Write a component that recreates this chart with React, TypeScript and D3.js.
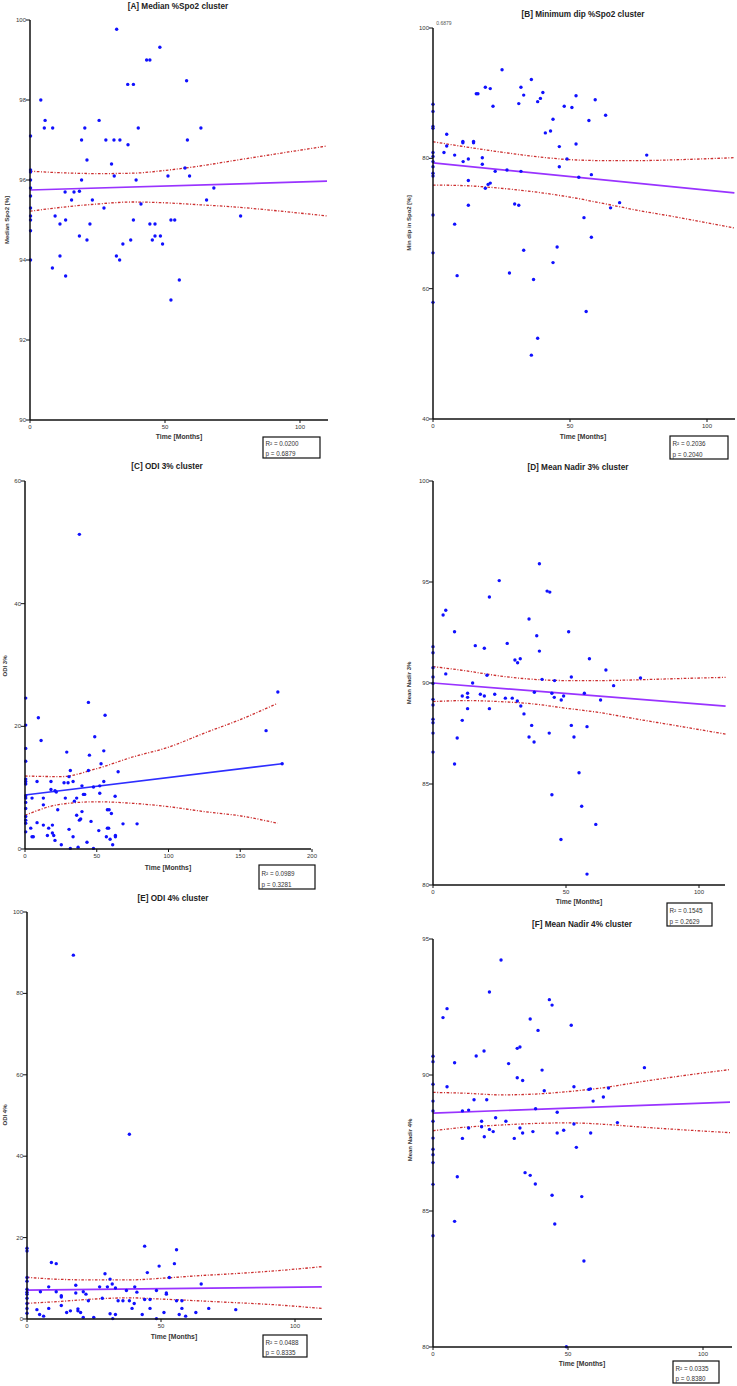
import React from "react";
import * as d3 from "d3";

type Pt = [number, number];

// ---------- DATA ----------
const titles = [
  "[A] Median %Spo2 cluster",
  "[B] Minimum dip %Spo2 cluster",
  "[C] ODI 3% cluster",
  "[D] Mean Nadir 3% cluster",
  "[E] ODI 4% cluster",
  "[F] Mean Nadir 4% cluster",
];
const yLabels = ["Median Spo2 [%]", "Min dip in Spo2 [%]", "ODI 3%", "Mean Nadir 3%", "ODI 4%", "Mean Nadir 4%"];
const xLabel = "Time [Months]";
const r2Values = ["0.0200", "0.2036", "0.0989", "0.1545", "0.0488", "0.0335"];
const pValues = ["0.6879", "0.2040", "0.3281", "0.2629", "0.8335", "0.8380"];

const ticksA = [90, 92, 94, 96, 98, 100];
const ticksB = [40, 60, 80, 100];
const ticksC = [0, 20, 40, 60];
const ticksD = [80, 85, 90, 95, 100];
const ticksE = [0, 20, 40, 60, 80, 100];
const ticksF = [80, 85, 90, 95];
const xTicks100 = [0, 50, 100];
const xTicks200 = [0, 50, 100, 150, 200];

const pointsA: Pt[] = [
  [32.1, 99.77], [48.1, 99.32], [43.2, 99.0], [44.4, 99.0], [58, 98.48], [36.2, 98.39], [38.3, 98.39], [4, 98.0],
  [5.6, 97.49], [5.3, 97.3], [8.4, 97.3], [25.6, 97.49], [20.3, 97.3], [40.1, 97.3], [63.3, 97.3], [0.2, 97.1],
  [19.1, 97.0], [28.1, 97.0], [31.1, 97.0], [33.3, 97.0], [58.3, 97.0], [36.3, 96.88], [21.1, 96.5], [30.2, 96.4],
  [0.2, 96.25], [0.2, 96.2], [57.4, 96.3], [31.2, 96.1], [51.1, 96.1], [59.1, 96.1], [0.2, 96.0], [19.1, 96.0],
  [39.3, 96.0], [68.1, 95.8], [0.2, 95.8], [13, 95.7], [16.3, 95.7], [18.3, 95.72], [0.2, 95.6], [15.4, 95.5],
  [23.1, 95.5], [65.4, 95.5], [0.2, 95.3], [27.4, 95.3], [41.1, 95.4], [0.2, 95.1], [9.3, 95.1], [78, 95.1],
  [0.2, 95.0], [13.2, 95.0], [11.1, 94.9], [22.2, 94.9], [38.3, 95.0], [44.4, 94.9], [46.3, 94.9], [52.2, 95.0],
  [53.6, 95.0], [0.2, 94.73], [18.3, 94.6], [46.3, 94.6], [48.3, 94.6], [21.1, 94.5], [37.3, 94.5], [45.3, 94.5],
  [34.4, 94.4], [49.1, 94.4], [11.1, 94.1], [32, 94.1], [33.2, 94.0], [0.2, 94.0], [8.3, 93.8], [13.2, 93.6],
  [55.3, 93.5], [52.2, 93.0],
];
const pointsB: Pt[] = [
  [25.2, 93.6], [35.9, 92.1], [19.1, 90.9], [20.9, 90.7], [32.1, 90.9], [33.1, 89.7], [15.8, 89.9], [16.4, 89.9],
  [40.1, 90.1], [39.2, 89.2], [38.2, 88.7], [52.2, 89.6], [59.2, 89.0], [21.9, 88.0], [31.3, 88.4], [47.9, 88.0],
  [50.7, 87.8], [0, 88.3], [0, 87.2], [63, 86.6], [43.8, 86.0], [56.9, 85.8], [0, 84.9], [0, 84.6], [41, 83.9],
  [42.9, 84.2], [5, 83.7], [10.9, 82.6], [10.9, 82.4], [14.8, 82.6], [14.8, 82.4], [5, 81.9], [52.2, 82.2],
  [46.1, 81.8], [4, 80.9], [7.9, 80.5], [0, 80.9], [0, 80.3], [18, 80.1], [12.9, 79.9], [11, 79.5], [48.9, 79.9],
  [78, 80.5], [18, 79.1], [0, 79.5], [0, 78.7], [46.1, 78.7], [22.7, 78.0], [27, 78.2], [32.1, 78.0], [0, 77.7],
  [0, 77.3], [57.8, 77.5], [53.2, 77.1], [12.9, 76.6], [20.9, 76.2], [20.1, 76.0], [19.1, 75.4], [12.9, 72.8],
  [29.8, 73.0], [31.3, 72.8], [68.1, 73.2], [64.8, 72.4], [0, 71.3], [55.1, 70.9], [7.9, 69.9], [57.8, 67.9],
  [0, 65.5], [33.1, 65.9], [45.3, 66.4], [43.8, 64.0], [27.9, 62.4], [8.8, 62.0], [36.7, 61.4], [0, 57.9],
  [55.9, 56.5], [38.2, 52.4], [35.9, 49.8],
];
const pointsC: Pt[] = [
  [37.9, 51.3], [176.2, 25.6], [0.5, 24.6], [44.2, 23.9], [55.8, 21.8], [9.3, 21.4], [0.5, 20.2], [168, 19.3],
  [11.2, 17.7], [48.6, 18.3], [0.5, 16.4], [29.1, 15.8], [54.9, 16.0], [44.9, 15.3], [0.5, 14.3], [53, 13.9],
  [31.6, 12.8], [44.2, 12.8], [64.9, 12.6], [30.7, 11.8], [0.5, 11.4], [0.5, 11.0], [0.5, 10.6], [8.4, 11.0],
  [18.1, 11.0], [27.2, 10.8], [30, 10.8], [33.5, 11.0], [54.9, 11.0], [179.2, 13.9], [39.7, 10.3], [47.7, 10.1],
  [52.1, 10.3], [18.1, 9.7], [20.9, 9.5], [21.8, 9.3], [52.1, 9.1], [40.7, 8.9], [41.6, 8.9], [0.5, 8.7],
  [0.5, 8.3], [4.9, 8.3], [12.8, 8.3], [28.1, 8.3], [36, 8.3], [62.8, 8.6], [34.4, 7.8], [12.8, 7.2], [0.5, 7.6],
  [0.5, 6.6], [22.8, 6.4], [39.7, 6.1], [57.4, 6.4], [58.6, 6.4], [36, 5.5], [0.5, 5.3], [0.5, 4.7], [0.5, 4.2],
  [60.2, 5.8], [37.9, 4.7], [38.8, 4.9], [46, 4.5], [8.4, 4.3], [12.8, 3.9], [19.1, 3.9], [4, 3.4], [16.5, 3.4],
  [30.7, 3.2], [68.3, 4.1], [78.1, 4.1], [57.4, 3.4], [58.3, 3.4], [51.4, 3.0], [0.5, 2.8], [19.1, 2.6], [20, 2.2],
  [4.9, 2.0], [5.8, 2.0], [15.6, 2.2], [33.5, 2.0], [56.7, 2.0], [63, 2.2], [63, 2.0], [20.9, 1.4], [59.3, 1.6],
  [43.2, 1.1], [25.3, 0.7], [61.1, 0.7], [31.6, 0.1], [37, 0.3], [47.7, 0.1],
];
const pointsD: Pt[] = [
  [40, 95.9], [24.9, 95.07], [42.9, 94.55], [43.9, 94.5], [21.2, 94.26], [4.8, 93.6], [3.8, 93.37], [36.1, 93.17],
  [8.1, 92.54], [51, 92.54], [39, 92.34], [27.9, 91.96], [15.9, 91.85], [19.3, 91.72], [0, 91.8], [0, 91.5],
  [40, 91.58], [30.8, 91.14], [31.8, 91.0], [32.8, 91.2], [58.8, 91.2], [65, 90.64], [0, 90.76], [4.8, 90.45],
  [20.3, 90.38], [0, 90.3], [41, 90.18], [45.7, 90.12], [52, 90.3], [78, 90.25], [14.9, 90.0], [67.9, 89.87],
  [0, 89.98], [0, 89.19], [0, 88.91], [11, 89.36], [13, 89.49], [13, 89.29], [17.8, 89.44], [19.3, 89.36],
  [23.2, 89.44], [27.2, 89.25], [29.8, 89.25], [31.7, 89.11], [33, 88.86], [38.1, 89.54], [44.7, 89.49],
  [45.6, 89.29], [48.2, 89.16], [49.1, 89.36], [56.9, 89.49], [63, 89.16], [13, 88.73], [21.2, 88.73], [11, 88.15],
  [34.2, 88.47], [0, 88.21], [0, 88.03], [0, 87.52], [37.1, 87.9], [52, 87.9], [57.9, 87.84], [43.7, 87.52],
  [9.1, 87.28], [36.1, 87.33], [38, 87.08], [53, 87.33], [0, 86.58], [8.1, 85.99], [54.9, 85.56], [44.7, 84.47],
  [55.9, 83.9], [61.2, 83.0], [48.1, 82.25], [57.9, 80.54],
];
const pointsE: Pt[] = [
  [17.3, 89.4], [38.2, 45.4], [43.9, 17.9], [55.8, 17.0], [0, 17.4], [0, 16.7], [9.1, 13.9], [10.9, 13.6],
  [55, 13.6], [49.3, 13.0], [44.9, 11.4], [29.1, 11.1], [31, 9.8], [0, 10.2], [0, 9.3], [53.1, 10.2], [31.8, 8.6],
  [33, 7.6], [30, 7.9], [27.1, 7.9], [8.1, 7.9], [18.2, 8.3], [40.2, 7.9], [65, 8.6], [0, 7.3], [0, 6.6], [0, 6.1],
  [5, 6.7], [10.9, 6.7], [18.2, 6.4], [21, 6.7], [22, 6.1], [28.1, 5.1], [37.1, 7.0], [41, 6.6], [48.3, 7.0],
  [52, 6.4], [52, 6.1], [12.8, 5.7], [12.8, 5.4], [22.9, 4.5], [34, 4.5], [35.8, 4.5], [38.2, 4.5], [43.9, 4.8],
  [45.9, 4.8], [55.8, 4.5], [57.8, 4.5], [40, 3.8], [0, 5.1], [0, 3.8], [0, 2.6], [0, 1.4], [3.7, 2.3], [8.1, 2.6],
  [12.8, 3.3], [19, 2.5], [19, 2.0], [20, 1.6], [14.8, 1.6], [16.2, 2.0], [39.2, 2.6], [45.9, 2.6], [57.8, 2.6],
  [67.8, 2.6], [77.9, 2.3], [63, 1.6], [51.1, 1.6], [31, 1.3], [33, 1.1], [43, 1.1], [56.8, 1.1], [59.2, 0.7],
  [4.7, 1.1], [6.2, 0.7], [21, 0.4], [24.9, 0.4], [32, 0.1], [48.3, 0.1],
];
const pointsF: Pt[] = [
  [25.2, 94.23], [20.9, 93.05], [43.1, 92.77], [44.1, 92.57], [5.2, 92.44], [3.7, 92.11], [36, 92.06],
  [51.2, 91.83], [38.9, 91.64], [31.2, 90.98], [32.2, 91.03], [0, 90.69], [0, 90.49], [16, 90.7], [18.9, 90.88],
  [8, 90.45], [28, 90.42], [40.4, 90.18], [78.3, 90.27], [0, 89.66], [31.2, 89.9], [33.2, 89.8], [5.2, 89.57],
  [52.2, 89.57], [57.7, 89.47], [58.3, 89.49], [65, 89.52], [41.2, 89.42], [0, 89.04], [15.2, 89.09],
  [19.9, 89.09], [59.3, 89.04], [63.1, 89.19], [38, 88.76], [0, 88.68], [10.9, 88.68], [13.2, 88.71], [46, 88.63],
  [23.2, 88.43], [27, 88.3], [18, 88.3], [68.3, 88.25], [0, 88.3], [18, 88.1], [13.2, 88.05], [32.2, 88.05],
  [20.9, 88.0], [22.3, 87.92], [52.2, 88.2], [37, 87.92], [33.2, 87.87], [46, 87.87], [48.4, 87.97], [58.4, 87.87],
  [0, 87.68], [10.9, 87.67], [19, 87.73], [30.1, 87.67], [53.1, 87.34], [0, 87.27], [0, 87.07], [0, 86.78],
  [34.1, 86.41], [36, 86.31], [9, 86.26], [37.9, 85.99], [0, 85.98], [44.1, 85.58], [55.1, 85.53], [8, 84.62],
  [45.1, 84.52], [0, 84.09], [55.9, 83.16], [49.4, 80.01],
];

// regression fits (value at start and end of line) and 95% confidence bands
const fitXA = [0, 110]; const fitYA = [95.75, 95.97];
const fitXB = [0, 110]; const fitYB = [79.3, 74.7];
const fitXC = [0, 179]; const fitYC = [8.8, 13.9];
const fitXD = [0, 110]; const fitYD = [90.0, 88.86];
const fitXE = [0, 110]; const fitYE = [7.1, 7.9];
const fitXF = [0, 110]; const fitYF = [88.6, 89.0];

const bandX = [0, 12, 25, 38, 50, 63, 75, 90, 110];
const bandHiA = [96.22, 96.18, 96.16, 96.17, 96.24, 96.35, 96.48, 96.64, 96.85];
const bandLoA = [95.22, 95.32, 95.4, 95.45, 95.43, 95.38, 95.33, 95.24, 95.1];
const bandHiB = [82.55, 81.75, 80.95, 80.25, 79.8, 79.65, 79.65, 79.8, 80.1];
const bandLoB = [75.9, 75.8, 75.4, 74.8, 74.05, 73.0, 72.0, 70.9, 69.3];
const bandXC = [0, 25, 50, 75, 100, 125, 150, 176];
const bandHiC = [11.9, 11.8, 13.1, 15.0, 16.6, 18.9, 21.1, 23.75];
const bandLoC = [5.5, 7.3, 7.7, 7.45, 6.9, 6.1, 5.4, 4.2];
const bandHiD = [90.81, 90.61, 90.35, 90.18, 90.12, 90.12, 90.15, 90.21, 90.28];
const bandLoD = [89.08, 89.13, 89.08, 88.96, 88.75, 88.53, 88.25, 87.92, 87.47];
const bandHiE = [10.25, 9.75, 9.6, 9.6, 10.0, 10.6, 11.05, 11.7, 12.85];
const bandLoE = [3.85, 4.3, 4.9, 5.2, 4.9, 4.5, 4.1, 3.6, 2.6];
const bandHiF = [89.36, 89.33, 89.27, 89.3, 89.39, 89.53, 89.72, 89.94, 90.2];
const bandLoF = [87.95, 88.08, 88.16, 88.22, 88.24, 88.19, 88.1, 88.0, 87.88];

// ---------- LAYOUT / STYLE ----------
const FONT = "'Liberation Sans', Arial, Helvetica, sans-serif";
const DOT = "#1010ff";
const PURPLE = "#9933ff";
const BLUE_FIT = "#2e2eff";
const RED = "#cc2f2f";

type Cfg = {
  left: number; right: number; top: number; bottom: number;
  xMax: number; xMaxVal: number; yDomain: [number, number];
  yTicks: number[]; xTicks: number[];
  points: Pt[]; fitX: number[]; fitY: number[]; fitColor: string;
  bX: number[]; bHi: number[]; bLo: number[];
  title: string; titlePos: Pt; yLabel: string; yLabelPos: Pt; xLabelPos: Pt;
  box: [number, number, number, number]; r2: string; p: string;
};

const panels: Cfg[] = [
  {
    left: 30, right: 300, top: 20, bottom: 420, xMax: 328, xMaxVal: 100, yDomain: [90, 100],
    yTicks: ticksA, xTicks: xTicks100, points: pointsA, fitX: fitXA, fitY: fitYA, fitColor: PURPLE,
    bX: bandX, bHi: bandHiA, bLo: bandLoA, title: titles[0], titlePos: [178, 9], yLabel: yLabels[0],
    yLabelPos: [9, 220], xLabelPos: [179, 439], box: [263, 437, 57, 21], r2: r2Values[0], p: pValues[0],
  },
  {
    left: 433, right: 707, top: 28, bottom: 419, xMax: 735, xMaxVal: 100, yDomain: [40, 100],
    yTicks: ticksB, xTicks: xTicks100, points: pointsB, fitX: fitXB, fitY: fitYB, fitColor: PURPLE,
    bX: bandX, bHi: bandHiB, bLo: bandLoB, title: titles[1], titlePos: [583, 17], yLabel: yLabels[1],
    yLabelPos: [411, 223], xLabelPos: [583, 439], box: [670, 436, 58, 23], r2: r2Values[1], p: pValues[1],
  },
  {
    left: 25, right: 312, top: 481, bottom: 849, xMax: 311, xMaxVal: 200, yDomain: [0, 60],
    yTicks: ticksC, xTicks: xTicks200, points: pointsC, fitX: fitXC, fitY: fitYC, fitColor: BLUE_FIT,
    bX: bandXC, bHi: bandHiC, bLo: bandLoC, title: titles[2], titlePos: [167, 469], yLabel: yLabels[2],
    yLabelPos: [7, 666], xLabelPos: [168, 870], box: [259, 865, 56, 24], r2: r2Values[2], p: pValues[2],
  },
  {
    left: 433, right: 699, top: 481, bottom: 885, xMax: 725, xMaxVal: 100, yDomain: [80, 100],
    yTicks: ticksD, xTicks: xTicks100, points: pointsD, fitX: fitXD, fitY: fitYD, fitColor: PURPLE,
    bX: bandX, bHi: bandHiD, bLo: bandLoD, title: titles[3], titlePos: [578, 470], yLabel: yLabels[3],
    yLabelPos: [411, 683], xLabelPos: [579, 904], box: [667, 903, 45, 23], r2: r2Values[3], p: pValues[3],
  },
  {
    left: 27, right: 295, top: 912, bottom: 1319, xMax: 322, xMaxVal: 100, yDomain: [0, 100],
    yTicks: ticksE, xTicks: xTicks100, points: pointsE, fitX: fitXE, fitY: fitYE, fitColor: PURPLE,
    bX: bandX, bHi: bandHiE, bLo: bandLoE, title: titles[4], titlePos: [173, 901], yLabel: yLabels[4],
    yLabelPos: [7, 1115], xLabelPos: [174, 1339], box: [263, 1335, 44, 22], r2: r2Values[4], p: pValues[4],
  },
  {
    left: 433, right: 703, top: 939, bottom: 1347, xMax: 732, xMaxVal: 100, yDomain: [80, 95],
    yTicks: ticksF, xTicks: xTicks100, points: pointsF, fitX: fitXF, fitY: fitYF, fitColor: PURPLE,
    bX: bandX, bHi: bandHiF, bLo: bandLoF, title: titles[5], titlePos: [582, 927], yLabel: yLabels[5],
    yLabelPos: [412, 1140], xLabelPos: [582, 1366], box: [673, 1361, 46, 22], r2: r2Values[5], p: pValues[5],
  },
];

function Panel({ c }: { c: Cfg }) {
  const x = d3.scaleLinear().domain([0, c.xMaxVal]).range([c.left, c.right]);
  const y = d3.scaleLinear().domain(c.yDomain).range([c.bottom, c.top]);
  const band = d3
    .line<Pt>()
    .x((d) => x(d[0]))
    .y((d) => y(d[1]))
    .curve(d3.curveMonotoneX);
  const hi = band(c.bX.map((v, i) => [v, c.bHi[i]] as Pt)) || "";
  const lo = band(c.bX.map((v, i) => [v, c.bLo[i]] as Pt)) || "";
  const fit = band(c.fitX.map((v, i) => [v, c.fitY[i]] as Pt)) || "";
  const [bx, by, bw, bh] = c.box;
  return (
    <g>
      <text x={c.titlePos[0]} y={c.titlePos[1]} textAnchor="middle" fontSize={8.2} fontWeight="bold" fill="#222">
        {c.title}
      </text>
      <path d={hi} fill="none" stroke={RED} strokeWidth={1.3} strokeDasharray="2.6 1.6 1 1.6" />
      <path d={lo} fill="none" stroke={RED} strokeWidth={1.3} strokeDasharray="2.6 1.6 1 1.6" />
      <path d={fit} fill="none" stroke={c.fitColor} strokeWidth={1.7} />
      {c.points.map((p, i) => (
        <circle key={i} cx={x(p[0])} cy={y(p[1])} r={1.7} fill={DOT} />
      ))}
      {/* axes */}
      <line x1={c.left} x2={c.left} y1={y(c.yDomain[1])} y2={c.bottom} stroke="#111" strokeWidth={1.5} />
      <line x1={c.left} x2={c.xMax} y1={c.bottom} y2={c.bottom} stroke="#111" strokeWidth={1.5} />
      {c.yTicks.map((t) => (
        <g key={"y" + t}>
          <line x1={c.left - 4} x2={c.left} y1={y(t)} y2={y(t)} stroke="#111" strokeWidth={1} />
          <text x={c.left - 4} y={y(t) + 2} textAnchor="end" fontSize={6} fill="#333">
            {t}
          </text>
        </g>
      ))}
      {c.xTicks.map((t) => (
        <g key={"x" + t}>
          <line x1={x(t)} x2={x(t)} y1={c.bottom} y2={c.bottom + 3} stroke="#111" strokeWidth={1} />
          <text x={x(t)} y={c.bottom + 9} textAnchor="middle" fontSize={6} fill="#333">
            {t}
          </text>
        </g>
      ))}
      <text
        transform={`translate(${c.yLabelPos[0]},${c.yLabelPos[1]}) rotate(-90)`}
        textAnchor="middle"
        fontSize={6}
        fontWeight="bold"
        fill="#333"
      >
        {c.yLabel}
      </text>
      <text x={c.xLabelPos[0]} y={c.xLabelPos[1]} textAnchor="middle" fontSize={6.8} fontWeight="bold" fill="#333">
        {xLabel}
      </text>
      <rect x={bx} y={by} width={bw} height={bh} fill="#fff" stroke="#111" strokeWidth={1.2} />
      <text x={bx + 2.5} y={by + bh / 2 - 1.2} fontSize={6.3} fill="#333">
        {"R\u00b2 = " + c.r2}
      </text>
      <text x={bx + 2.5} y={by + bh - 2.5} fontSize={6.3} fill="#333">
        {"p = " + c.p}
      </text>
    </g>
  );
}

export default function App() {
  return (
    <svg
      width={737}
      height={1386}
      style={{ position: "absolute", left: 0, top: 0, background: "#fff" }}
      fontFamily={FONT}
    >
      <rect x={0} y={0} width={737} height={1386} fill="#fff" />
      {panels.map((c, i) => (
        <Panel key={i} c={c} />
      ))}
      <text x={444} y={25} textAnchor="middle" fontSize={5} fill="#555">
        {pValues[0]}
      </text>
    </svg>
  );
}
